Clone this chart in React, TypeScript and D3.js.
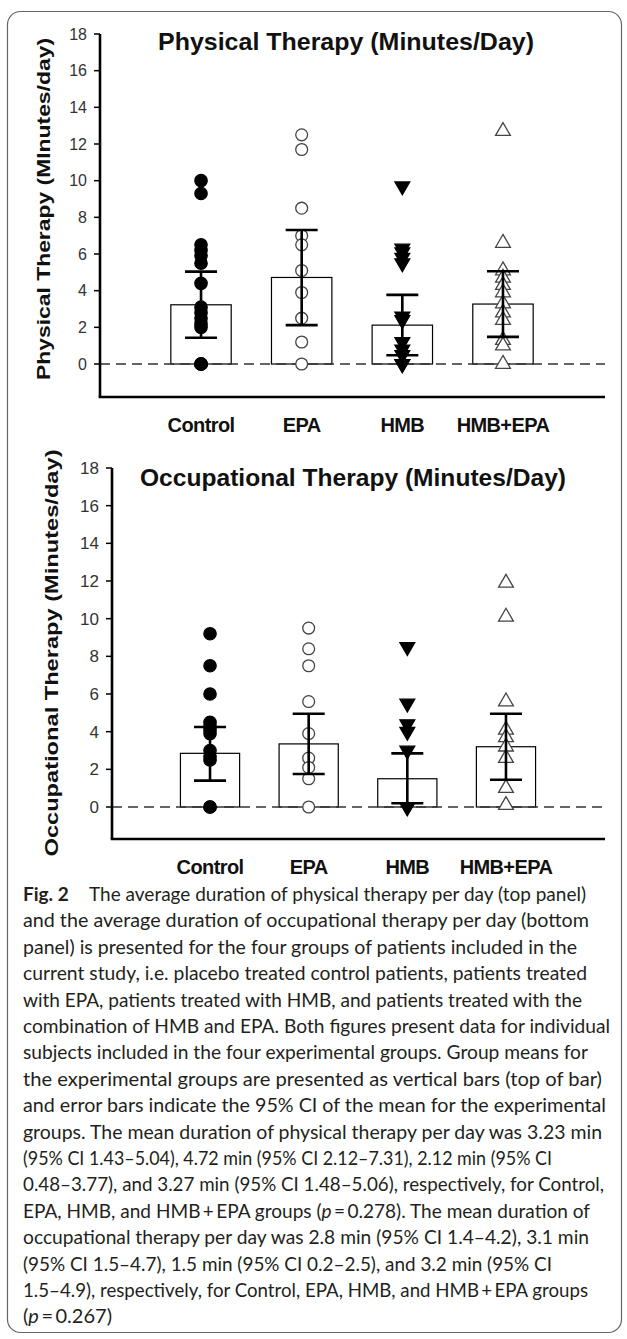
import { scaleBand, scaleLinear, symbol, symbolCircle, symbolTriangle } from 'd3'

const categories = ['Control', 'EPA', 'HMB', 'HMB+EPA']
const yTickValues = [0, 2, 4, 6, 8, 10, 12, 14, 16, 18]

// physical therapy, minutes/day per subject
const ptControl = [10.0, 9.3, 6.5, 6.2, 5.9, 5.5, 4.4, 3.1, 2.8, 2.5, 2.2, 2.0, 0, 0, 0, 0]
const ptEPA = [12.5, 11.7, 8.5, 7.0, 6.5, 5.1, 3.9, 2.5, 1.2, 0]
const ptHMB = [9.7, 6.3, 6.1, 5.8, 5.5, 2.6, 2.4, 1.2, 0.8, 0.5, 0, 0]
const ptHMBEPA = [12.7, 6.6, 5.1, 4.7, 4.3, 3.9, 3.3, 2.8, 2.4, 1.3, 1.0, 0]
const ptMean = [3.23, 4.72, 2.12, 3.27]
const ptCiLow = [1.43, 2.12, 0.48, 1.48]
const ptCiHigh = [5.04, 7.31, 3.77, 5.06]

// occupational therapy, minutes/day per subject
const otControl = [9.2, 7.5, 6.0, 4.5, 4.3, 4.1, 3.9, 3.0, 2.7, 2.5, 0, 0]
const otEPA = [9.5, 8.4, 7.5, 5.6, 3.9, 2.6, 2.1, 1.5, 0]
const otHMB = [8.5, 5.5, 4.4, 4.0, 3.0, 0, 0]
const otHMBEPA = [11.9, 10.1, 5.6, 4.1, 3.7, 3.2, 2.6, 1.0, 0.1]
const otMean = [2.85, 3.35, 1.5, 3.2]
const otCiLow = [1.4, 1.75, 0.2, 1.45]
const otCiHigh = [4.25, 4.95, 2.85, 4.95]

const captionLines = [
  'The average duration of physical therapy per day (top panel)',
  'and the average duration of occupational therapy per day (bottom',
  'panel) is presented for the four groups of patients included in the',
  'current study, i.e. placebo treated control patients, patients treated',
  'with EPA, patients treated with HMB, and patients treated with the',
  'combination of HMB and EPA. Both figures present data for individual',
  'subjects included in the four experimental groups. Group means for',
  'the experimental groups are presented as vertical bars (top of bar)',
  'and error bars indicate the 95% CI of the mean for the experimental',
  'groups. The mean duration of physical therapy per day was 3.23 min',
  '(95% CI 1.43–5.04), 4.72 min (95% CI 2.12–7.31), 2.12 min (95% CI',
  '0.48–3.77), and 3.27 min (95% CI 1.48–5.06), respectively, for Control,',
  'EPA, HMB, and HMB\u2009+\u2009EPA groups (p\u2009=\u20090.278). The mean duration of',
  'occupational therapy per day was 2.8 min (95% CI 1.4–4.2), 3.1 min',
  '(95% CI 1.5–4.7), 1.5 min (95% CI 0.2–2.5), and 3.2 min (95% CI',
  '1.5–4.9), respectively, for Control, EPA, HMB, and HMB\u2009+\u2009EPA groups',
  '(p\u2009=\u20090.267)',
]
const captionWidths = [563, 566, 554, 564, 559, 587, 565, 579, 583, 579, 529, 581, 567, 566, 529, 565, 89]

const markerStyles = [
  { type: symbolCircle, size: 120, fill: '#000', stroke: '#000', rotate: 0 },
  { type: symbolCircle, size: 110, fill: '#fff', stroke: '#444', rotate: 0 },
  { type: symbolTriangle, size: 95, fill: '#000', stroke: '#000', rotate: 180 },
  { type: symbolTriangle, size: 95, fill: '#fff', stroke: '#444', rotate: 0 },
]

const sans = '"Liberation Sans", Arial, sans-serif'

interface PanelLayout {
  axisX: number
  yZero: number
  yMax: number
  axisBottom: number
  xStart: number
  xEnd: number
  lineEnd: number
  tickLabelX: number
  tickFont: number
  titleX: number
  titleY: number
  titleWidth: number
  yTitleX: number
  yTitleY: number
  yTitleLen: number
  catY: number
}

const topLayout: PanelLayout = {
  axisX: 100, yZero: 364, yMax: 34, axisBottom: 397, xStart: 150.7, xEnd: 553.3, lineEnd: 605,
  tickLabelX: 87, tickFont: 16, titleX: 158, titleY: 50, titleWidth: 376,
  yTitleX: 50, yTitleY: 209, yTitleLen: 342, catY: 432,
}
const bottomLayout: PanelLayout = {
  axisX: 112, yZero: 807, yMax: 468, axisBottom: 839, xStart: 160.7, xEnd: 555.3, lineEnd: 605,
  tickLabelX: 99, tickFont: 17, titleX: 140, titleY: 486, titleWidth: 426,
  yTitleX: 58, yTitleY: 653, yTitleLen: 407, catY: 874,
}

function Panel({
  layout, title, yTitle, groups, mean, ciLow, ciHigh,
}: {
  layout: PanelLayout
  title: string
  yTitle: string
  groups: number[][]
  mean: number[]
  ciLow: number[]
  ciHigh: number[]
}) {
  const L = layout
  const y = scaleLinear().domain([0, 18]).range([L.yZero, L.yMax])
  const x = scaleBand().domain(categories).range([L.xStart, L.xEnd]).paddingInner(0.4).paddingOuter(0.2)
  const bw = x.bandwidth()
  const cx = (c: string) => (x(c) ?? 0) + bw / 2
  const capHalf = 16

  return (
    <g>
      <text x={L.titleX} y={L.titleY} fontFamily={sans} fontWeight="bold" fontSize={24}
        textLength={L.titleWidth} lengthAdjust="spacingAndGlyphs" fill="#111">
        {title}
      </text>
      <text transform={`translate(${L.yTitleX},${L.yTitleY}) rotate(-90)`} textAnchor="middle"
        fontFamily={sans} fontWeight="bold" fontSize={19} textLength={L.yTitleLen}
        lengthAdjust="spacingAndGlyphs" fill="#111">
        {yTitle}
      </text>

      {categories.map((c, i) => (
        <rect key={`bar-${c}`} x={x(c)} y={y(mean[i])} width={bw} height={y(0) - y(mean[i])}
          fill="#fff" stroke="#000" strokeWidth={1.2} />
      ))}

      <line x1={L.axisX} x2={L.lineEnd} y1={y(0)} y2={y(0)} stroke="#333" strokeWidth={1.4}
        strokeDasharray="10,6" />

      {categories.map((c, i) => {
        const m = markerStyles[i]
        const d = symbol(m.type, m.size)() ?? ''
        return groups[i].map((v, j) => (
          <path key={`pt-${c}-${j}`} d={d}
            transform={`translate(${cx(c)},${y(v)}) rotate(${m.rotate})`}
            fill={m.fill} stroke={m.stroke} strokeWidth={1.3} />
        ))
      })}

      {categories.map((c, i) => (
        <g key={`err-${c}`} stroke="#000" strokeWidth={2.6}>
          <line x1={cx(c)} x2={cx(c)} y1={y(ciLow[i])} y2={y(ciHigh[i])} />
          <line x1={cx(c) - capHalf} x2={cx(c) + capHalf} y1={y(ciLow[i])} y2={y(ciLow[i])} />
          <line x1={cx(c) - capHalf} x2={cx(c) + capHalf} y1={y(ciHigh[i])} y2={y(ciHigh[i])} />
        </g>
      ))}

      <line x1={L.axisX} x2={L.axisX} y1={y(18)} y2={L.axisBottom} stroke="#000" strokeWidth={2.6} />
      <line x1={L.axisX - 1.3} x2={L.lineEnd} y1={L.axisBottom} y2={L.axisBottom} stroke="#000" strokeWidth={2.6} />
      {yTickValues.map((t) => (
        <g key={`tick-${t}`}>
          <line x1={L.axisX - 6} x2={L.axisX} y1={y(t)} y2={y(t)} stroke="#000" strokeWidth={1.5} />
          <text x={L.tickLabelX} y={y(t)} dy="0.36em" textAnchor="end" fontFamily={sans}
            fontSize={L.tickFont} fill="#333">
            {t}
          </text>
        </g>
      ))}

      {categories.map((c) => (
        <text key={`cat-${c}`} x={cx(c)} y={L.catY} textAnchor="middle" fontFamily={sans}
          fontWeight="bold" fontSize={20} letterSpacing={-0.6} fill="#111">
          {c}
        </text>
      ))}
    </g>
  )
}

// splits out the italic "p" of "(p = ...)"
function captionParts(text: string) {
  const parts = text.split(/(?<=\()p(?=\u2009=)/)
  return parts.map((p, i) => (
    <tspan key={i}>
      {i > 0 && <tspan fontStyle="italic">p</tspan>}
      {p}
    </tspan>
  ))
}

export default function App() {
  const capX = 23
  const capY0 = 901
  const capStep = 26.4
  return (
    <div>
      <style>{'body{margin:0}'}</style>
      <svg width={627} height={1339} style={{ display: 'block' }}>
        <rect x={0} y={0} width={627} height={1339} fill="#fff" />
        <rect x={7.5} y={11.5} width={614} height={1321} rx={13} fill="none" stroke="#666" strokeWidth={1.2} />

        <Panel layout={topLayout} title="Physical Therapy (Minutes/Day)"
          yTitle="Physical Therapy (MInutes/day)"
          groups={[ptControl, ptEPA, ptHMB, ptHMBEPA]} mean={ptMean} ciLow={ptCiLow} ciHigh={ptCiHigh} />
        <Panel layout={bottomLayout} title="Occupational Therapy (Minutes/Day)"
          yTitle="Occupational Therapy (Minutes/day)"
          groups={[otControl, otEPA, otHMB, otHMBEPA]} mean={otMean} ciLow={otCiLow} ciHigh={otCiHigh} />

        <g fontFamily="Lato, 'Open Sans', sans-serif" fontSize={19} fill="#231f20">
          {captionLines.map((line, i) =>
            i === 0 ? (
              <text key={`cap-${i}`} x={capX} y={capY0}>
                <tspan fontWeight="bold">Fig. 2</tspan>
                <tspan x={capX + 66} textLength={captionWidths[i] - 66} lengthAdjust="spacingAndGlyphs">
                  {line}
                </tspan>
              </text>
            ) : (
              <text key={`cap-${i}`} x={capX} y={capY0 + i * capStep}
                textLength={captionWidths[i]} lengthAdjust="spacingAndGlyphs">
                {captionParts(line)}
              </text>
            ),
          )}
        </g>
      </svg>
    </div>
  )
}
